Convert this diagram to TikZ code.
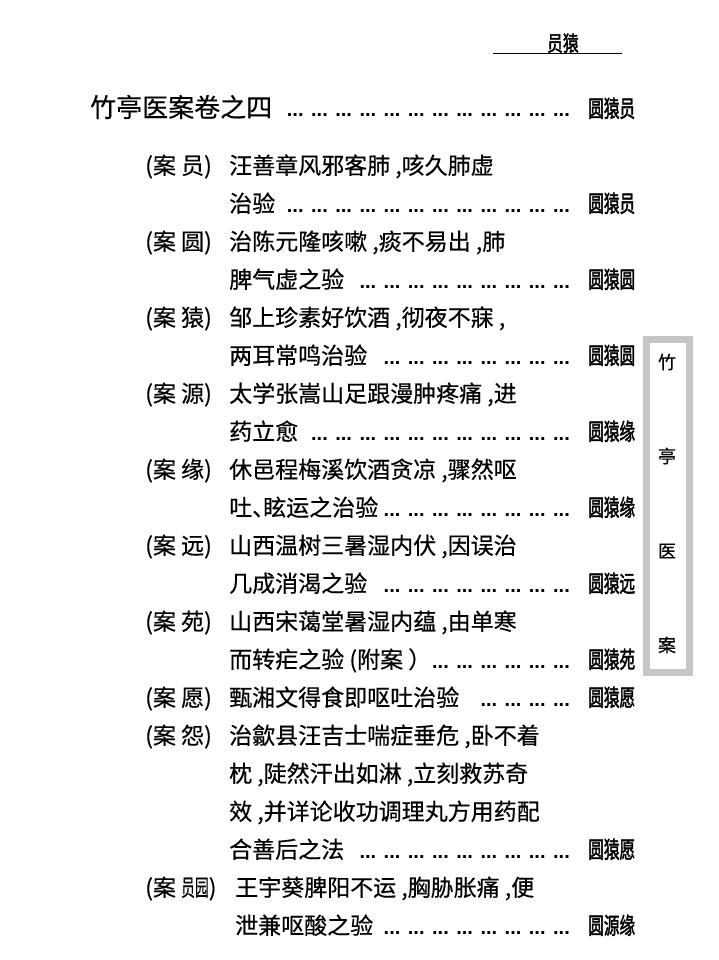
\documentclass[tikz,border=0pt]{standalone}
\usepackage{fontspec}
\setmainfont{Noto Sans CJK SC}[FakeBold=0.4]
\newfontfamily\numfont{Noto Sans CJK SC}[FakeBold=2.2]
\newfontfamily\dotfont{Liberation Sans Bold}
\newcommand\pagenum[1]{\numfont\scalebox{0.68}[1]{#1}}
\newcommand\leaderrow[3]{\foreach \k in {1,...,#3}{\node[leader] (#1-\k) at ({570-(\k-1)*24.2},#2) {...};}}
\begin{document}
\begin{tikzpicture}[x=1pt,y=-1pt,
    entry/.style={anchor=base west,inner sep=0,font=\fontsize{23}{23}\selectfont},
    casetag/.style={entry},
    pg/.style={entry},
    leader/.style={anchor=base east,inner sep=0,font=\dotfont\fontsize{20}{20}\selectfont},
    sidechar/.style={inner sep=0,font=\fontsize{18}{18}\selectfont}]
        \useasboundingbox (0,0) rectangle (718,960);
        \node[entry,font=\numfont\fontsize{21}{21}\selectfont] (hdr) at (547,51) {\scalebox{0.75}[1]{员猿}};
        \coordinate (rl) at (493,53.5);
        \coordinate (rr) at (622,53.5);
        \draw[line width=1.6] (rl) -- (rr);
        \node[entry,font=\fontsize{26}{26}\selectfont] (title) at (90,117) {竹亭医案卷之四};
        \leaderrow{t}{117}{12}
        \node[pg] (tpg) at (588,117) {\pagenum{圆猿员}};
        \node[casetag] (c1) at (145,174) {(案 员)};
        \node[entry] (e1a) at (229,174) {汪善章风邪客肺 ,咳久肺虚};
        \node[entry] (e1b) at (229,212) {治验};
        \leaderrow{d1}{212}{12}
        \node[pg] (p1) at (588,212) {\pagenum{圆猿员}};
        \node[casetag] (c2) at (145,250) {(案 圆)};
        \node[entry] (e2a) at (229,250) {治陈元隆咳嗽 ,痰不易出 ,肺};
        \node[entry] (e2b) at (229,288) {脾气虚之验};
        \leaderrow{d2}{288}{9}
        \node[pg] (p2) at (588,288) {\pagenum{圆猿圆}};
        \node[casetag] (c3) at (145,326) {(案 猿)};
        \node[entry] (e3a) at (229,326) {邹上珍素好饮酒 ,彻夜不寐 ,};
        \node[entry] (e3b) at (229,364) {两耳常鸣治验};
        \leaderrow{d3}{364}{8}
        \node[pg] (p3) at (588,364) {\pagenum{圆猿圆}};
        \node[casetag] (c4) at (145,402) {(案 源)};
        \node[entry] (e4a) at (229,402) {太学张嵩山足跟漫肿疼痛 ,进};
        \node[entry] (e4b) at (229,440) {药立愈};
        \leaderrow{d4}{440}{11}
        \node[pg] (p4) at (588,440) {\pagenum{圆猿缘}};
        \node[casetag] (c5) at (145,478) {(案 缘)};
        \node[entry] (e5a) at (229,478) {休邑程梅溪饮酒贪凉 ,骤然呕};
        \node[entry] (e5b) at (229,516) {吐\makebox[11pt][l]{、}眩运之治验};
        \leaderrow{d5}{516}{8}
        \node[pg] (p5) at (588,516) {\pagenum{圆猿缘}};
        \node[casetag] (c6) at (145,554) {(案 远)};
        \node[entry] (e6a) at (229,554) {山西温树三暑湿内伏 ,因误治};
        \node[entry] (e6b) at (229,592) {几成消渴之验};
        \leaderrow{d6}{592}{8}
        \node[pg] (p6) at (588,592) {\pagenum{圆猿远}};
        \node[casetag] (c7) at (145,630) {(案 苑)};
        \node[entry] (e7a) at (229,630) {山西宋蔼堂暑湿内蕴 ,由单寒};
        \node[entry] (e7b) at (229,668) {而转疟之验 (附案 ）};
        \leaderrow{d7}{668}{6}
        \node[pg] (p7) at (588,668) {\pagenum{圆猿苑}};
        \node[casetag] (c8) at (145,706) {(案 愿)};
        \node[entry] (e8a) at (229,706) {甄湘文得食即呕吐治验};
        \leaderrow{d8}{706}{4}
        \node[pg] (p8) at (588,706) {\pagenum{圆猿愿}};
        \node[casetag] (c9) at (145,744) {(案 怨)};
        \node[entry] (e9a) at (229,744) {治歙县汪吉士喘症垂危 ,卧不着};
        \node[entry] (e9b) at (229,782) {枕 ,陡然汗出如淋 ,立刻救苏奇};
        \node[entry] (e9c) at (229,820) {效 ,并详论收功调理丸方用药配};
        \node[entry] (e9d) at (229,858) {合善后之法};
        \leaderrow{d9}{858}{9}
        \node[pg] (p9) at (588,858) {\pagenum{圆猿愿}};
        \node[casetag] (c10) at (145,896) {(案 \scalebox{0.6}[1]{员园})};
        \node[entry] (e10a) at (235,896) {王宇葵脾阳不运 ,胸胁胀痛 ,便};
        \node[entry] (e10b) at (235,934) {泄兼呕酸之验};
        \leaderrow{d10}{934}{8}
        \node[pg] (p10) at (588,934) {\pagenum{圆源缘}};
        \draw[line width=7,gray!45] (646.5,339.5) rectangle (689.5,672.5);
        \node[sidechar] (s1) at (667,362) {竹};
        \node[sidechar] (s2) at (667,456) {亭};
        \node[sidechar] (s3) at (667,551) {医};
        \node[sidechar] (s4) at (667,645) {案};
    \end{tikzpicture}
\end{document}
